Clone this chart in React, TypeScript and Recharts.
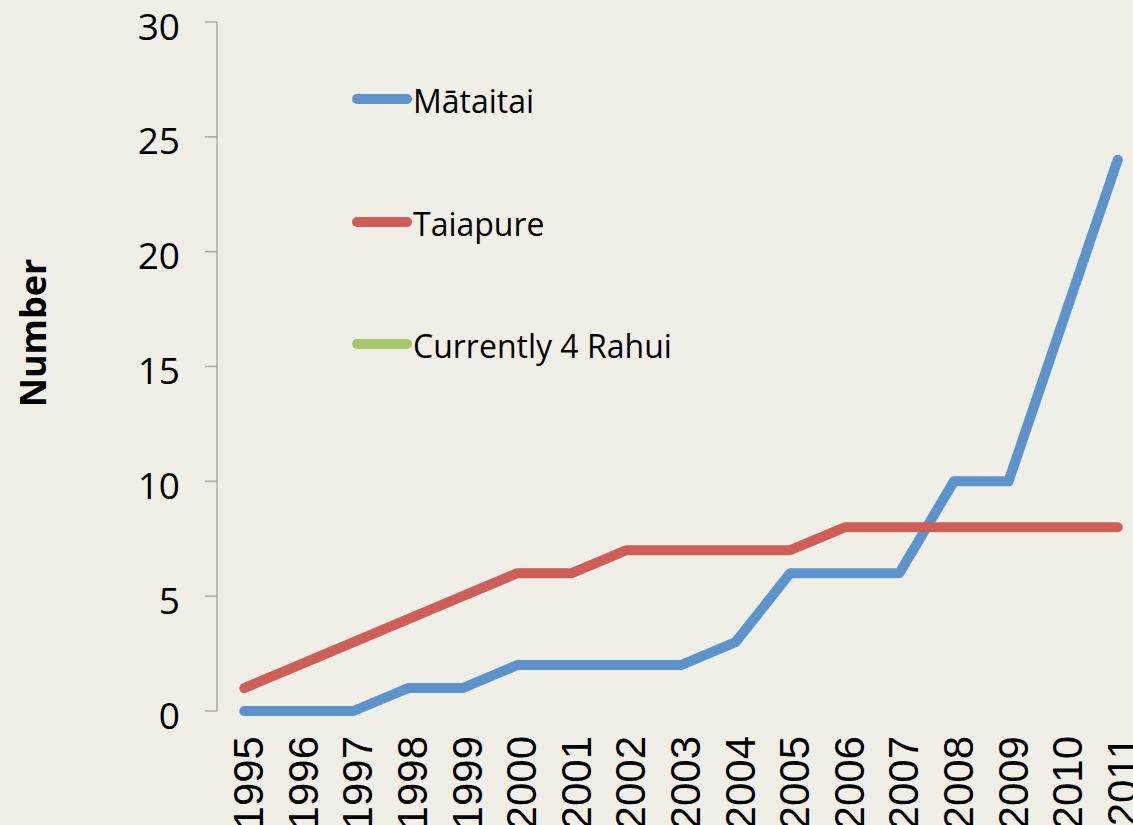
import React from 'react';
import { LineChart, Line, XAxis, YAxis } from 'recharts';

const years = ['1995', '1996', '1997', '1998', '1999', '2000', '2001', '2002', '2003', '2004', '2005', '2006', '2007', '2008', '2009', '2010', '2011'];
const mataitai = [0, 0, 0, 1, 1, 2, 2, 2, 2, 3, 6, 6, 6, 10, 10, 17, 24];
const taiapure = [1, 2, 3, 4, 5, 6, 6, 7, 7, 7, 7, 8, 8, 8, 8, 8, 8];
const rahui: (number | null)[] = years.map(() => null);
const yTicks = [0, 5, 10, 15, 20, 25, 30];
const seriesNames = ['Mātaitai', 'Taiapure', 'Currently 4 Rahui'];
const seriesKeys = ['mataitai', 'taiapure', 'rahui'];

const BG = '#F0EFE7';
const AXIS = '#A6A6A6';
const BLUE = '#5B93CA';
const RED = '#CD5F58';
const GREEN = '#A8C46B';
const seriesColors = [BLUE, RED, GREEN];

const centers = years.map((_, k) => k);
const bounds = [...years.map((_, k) => k - 0.5), years.length - 0.5];

const XTick = (props: any) => {
  const { x, y, payload } = props;
  const label = years[payload.value] ?? '';
  const ax = x + 19;
  const ay = y + 25;
  return (
    <text
      x={ax}
      y={ay}
      transform={`rotate(-90, ${ax}, ${ay})`}
      textAnchor="end"
      fontFamily="'Liberation Sans', Arial, sans-serif"
      fontSize={42}
      fill="#000"
    >
      {label}
    </text>
  );
};

const YTick = (props: any) => {
  const { x, y, payload } = props;
  return (
    <text
      x={x}
      y={y + 17.5}
      textAnchor="end"
      fontFamily="'Open Sans', sans-serif"
      fontSize={37}
      fill="#000"
    >
      {payload.value}
    </text>
  );
};

const YLabel = () => (
  <text
    x={46}
    y={333}
    transform="rotate(-90, 46, 333)"
    textAnchor="middle"
    fontFamily="'Open Sans', sans-serif"
    fontWeight="bold"
    fontSize={36}
    fill="#000"
  >
    Number
  </text>
);

const LegendBox = () => (
  <div style={{ position: 'absolute', left: 352, top: 89, width: 400, height: 300, pointerEvents: 'none' }}>
    {seriesNames.map((name, k) => (
      <div key={k} style={{ position: 'absolute', left: 0, top: k * 122.5, width: 400, height: 20 }}>
        <svg width={60} height={20} style={{ position: 'absolute', left: 0, top: 0 }}>
          <line x1={5} y1={10} x2={55} y2={10} stroke={seriesColors[k]} strokeWidth={10} strokeLinecap="round" />
        </svg>
        <span
          style={{
            position: 'absolute',
            left: 61,
            top: -4,
            fontFamily: "'Open Sans', sans-serif",
            fontSize: 32,
            lineHeight: '32px',
            color: '#000',
            whiteSpace: 'nowrap',
          }}
        >
          {name}
        </span>
      </div>
    ))}
  </div>
);

export default function App() {
  const data = years.map((yr, i) => ({
    i,
    year: yr,
    mataitai: mataitai[i],
    taiapure: taiapure[i],
    rahui: rahui[i],
  }));
  return (
    <div
      style={{
        position: 'fixed',
        left: 0,
        top: 0,
        width: 1133,
        height: 825,
        overflow: 'hidden',
        background: BG,
      }}
    >
      <LineChart width={1160} height={900} data={data} margin={{ top: 22, right: 15, bottom: 0, left: 0 }}>
        <XAxis
          xAxisId="bounds"
          type="number"
          dataKey="i"
          domain={[-0.5, 16.5]}
          ticks={bounds}
          interval={0}
          height={0}
          tickSize={12}
          tickLine={{ stroke: AXIS, strokeWidth: 1.4 }}
          axisLine={{ stroke: AXIS, strokeWidth: 1.4 }}
          tick={() => <g />}
          allowDataOverflow
        />
        <XAxis
          xAxisId="labels"
          type="number"
          dataKey="i"
          domain={[-0.5, 16.5]}
          ticks={centers}
          interval={0}
          height={189}
          tickSize={0}
          tickMargin={0}
          tickLine={false}
          axisLine={false}
          tick={XTick}
          allowDataOverflow
        />
        <YAxis
          domain={[0, 30]}
          ticks={yTicks}
          interval={0}
          width={217}
          tickSize={12}
          tickMargin={25}
          tickLine={{ stroke: AXIS, strokeWidth: 1.4 }}
          axisLine={{ stroke: AXIS, strokeWidth: 1.4 }}
          tick={YTick}
          label={<YLabel />}
        />
        {seriesKeys.map((key, k) => (
          <Line
            key={key}
            xAxisId="labels"
            dataKey={key}
            name={seriesNames[k]}
            stroke={seriesColors[k]}
            strokeWidth={10}
            strokeLinecap="round"
            strokeLinejoin="round"
            dot={false}
            activeDot={false}
            isAnimationActive={false}
          />
        ))}
      </LineChart>
      <LegendBox />
    </div>
  );
}
